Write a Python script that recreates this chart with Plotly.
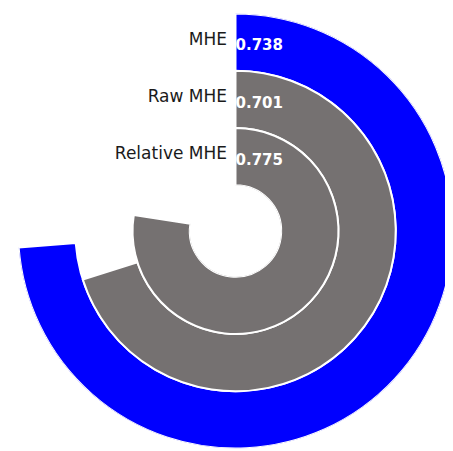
import plotly.graph_objects as go

categories = ["MHE", "Raw MHE", "Relative MHE"]
values = [0.738, 0.701, 0.775]
value_labels = ["0.738", "0.701", "0.775"]
colors = ["#0000FF", "#757171", "#757171"]

n = len(categories)
base = [n - 1 - i for i in range(n)]  # outermost ring first

PAGE_OFFSET = 8          # default body margin of the html page
W, H = 453 - PAGE_OFFSET, 451 - PAGE_OFFSET
R = 217.5
cx_screen, cy_screen = 235.5, 231.0
cx = cx_screen - PAGE_OFFSET
cy = H - (cy_screen - PAGE_OFFSET)   # measured from bottom of figure

fig = go.Figure()
fig.add_trace(go.Barpolar(
    r=[1] * n,
    base=base,
    theta=[v * 180 for v in values],
    width=[v * 360 for v in values],
    marker=dict(color=colors, line=dict(color="white", width=2)),
    hoverinfo="skip",
    showlegend=False,
))
fig.add_trace(go.Scatterpolar(
    r=[b + 0.53 for b in base],
    theta=[0] * n,
    mode="text",
    text=[c + "\u2002" for c in categories],
    textposition="middle left",
    textfont=dict(family="DejaVu Sans", size=17, color="#1a1a1a"),
    hoverinfo="skip",
    showlegend=False,
))
fig.add_trace(go.Scatterpolar(
    r=[b + 0.42 for b in base],
    theta=[0] * n,
    mode="text",
    text=[f"<b>{t}</b>" for t in value_labels],
    textposition="middle right",
    textfont=dict(family="DejaVu Sans", size=15, color="white"),
    hoverinfo="skip",
    showlegend=False,
))

fig.update_layout(
    width=W, height=H,
    margin=dict(l=0, r=0, t=0, b=0),
    paper_bgcolor="white",
    plot_bgcolor="white",
    showlegend=False,
    polar=dict(
        domain=dict(x=[max(0, (cx - R) / W), min(1, (cx + R) / W)],
                    y=[max(0, (cy - R) / H), min(1, (cy + R) / H)]),
        hole=46 / 219,
        bgcolor="white",
        radialaxis=dict(range=[0, n], autorange=False, visible=True, showgrid=False,
                        showline=False, showticklabels=False, ticks=""),
        angularaxis=dict(direction="clockwise", rotation=90, visible=True,
                         showgrid=False, showline=False, showticklabels=False, ticks=""),
    ),
)

fig.write_html("out.html")
